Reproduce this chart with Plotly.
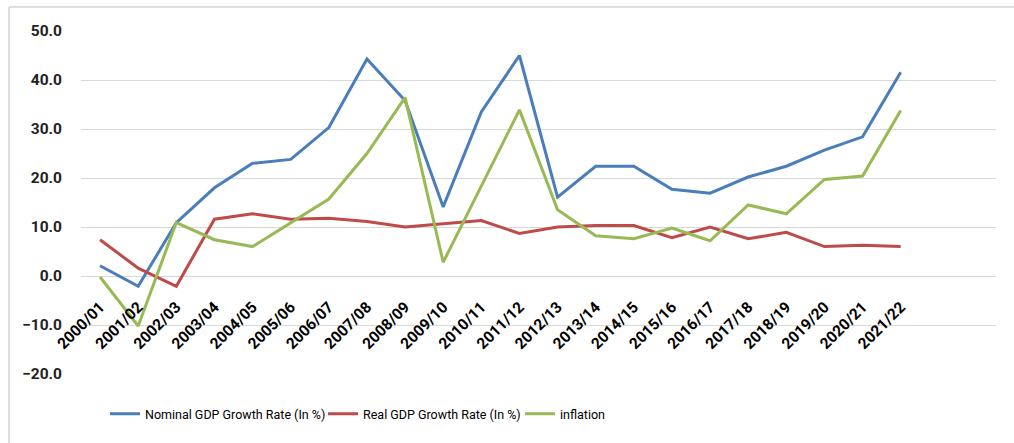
import plotly.graph_objects as go

# Fiscal years and growth series (%)
years = ["2000/01", "2001/02", "2002/03", "2003/04", "2004/05", "2005/06",
         "2006/07", "2007/08", "2008/09", "2009/10", "2010/11", "2011/12",
         "2012/13", "2013/14", "2014/15", "2015/16", "2016/17", "2017/18",
         "2018/19", "2019/20", "2020/21", "2021/22"]
nominal_gdp = [2.1, -2.1, 10.9, 18.0, 23.0, 23.8, 30.3, 44.3, 35.8, 14.1, 33.5,
               45.0, 16.1, 22.4, 22.4, 17.7, 16.9, 20.2, 22.4, 25.7, 28.4, 41.6]
real_gdp = [7.4, 1.6, -2.1, 11.6, 12.7, 11.6, 11.8, 11.1, 10.0, 10.6, 11.3,
            8.7, 10.0, 10.3, 10.3, 7.8, 10.0, 7.6, 8.9, 6.0, 6.3, 6.0]
inflation = [-0.2, -10.2, 10.9, 7.4, 6.0, 10.8, 15.7, 25.0, 36.4, 2.8, 18.2,
             33.9, 13.5, 8.2, 7.6, 9.8, 7.2, 14.5, 12.7, 19.7, 20.4, 33.8]

series_names = ["Nominal GDP Growth Rate (In %)", "Real GDP Growth Rate (In %)", "inflation"]
series_colors = ["#4A7EBB", "#BE4B48", "#98B954"]

y_min, y_max = -20, 50
FONT = "Roboto, Arial, sans-serif"

fig = go.Figure()
for name, vals, color, leg in zip(series_names, [nominal_gdp, real_gdp, inflation],
                                  series_colors, ["legend", "legend2", "legend3"]):
    fig.add_trace(go.Scatter(
        x=years, y=vals, name=name, mode="lines",
        line=dict(color=color, width=3),
        legend=leg,
    ))

legend_common = dict(
    orientation="h", yanchor="middle", xanchor="left",
    font=dict(family=FONT, size=12.5, color="#000000"),
    bgcolor="rgba(0,0,0,0)", borderwidth=0, itemwidth=30,
)

fig.update_layout(
    width=1014, height=443,
    margin=dict(l=81, r=18, t=31, b=69),
    paper_bgcolor="white", plot_bgcolor="white",
    font=dict(family=FONT, color="#000000"),
    showlegend=True,
    legend=dict(x=0.0262, y=-0.117, **legend_common),
    legend2=dict(x=0.2645, y=-0.117, **legend_common),
    legend3=dict(x=0.4798, y=-0.117, **legend_common),
    xaxis=dict(
        type="category", range=[-0.5, 23.5],
        anchor="free", position=(0 - y_min) / (y_max - y_min),
        showgrid=False, showline=False, zeroline=False, ticks="",
        tickangle=-45, ticklabelstandoff=18,
        tickfont=dict(family=FONT, size=15.5, color="#000000", weight="bold"),
    ),
    yaxis=dict(
        range=[y_min, y_max], dtick=10, tickformat=".1f",
        showgrid=True, gridcolor="#D9D9D9", gridwidth=1,
        zeroline=False, showline=False, ticks="",
        ticklabelstandoff=18,
        tickfont=dict(family=FONT, size=15.5, color="#222222", weight="bold"),
    ),
    shapes=[dict(
        type="rect", xref="paper", yref="paper",
        x0=-0.0787, x1=1.2, y0=-0.6, y1=1.07,
        line=dict(color="#BFBFBF", width=1), fillcolor="rgba(0,0,0,0)",
        layer="below",
    )],
)

fig.write_html("out.html")
